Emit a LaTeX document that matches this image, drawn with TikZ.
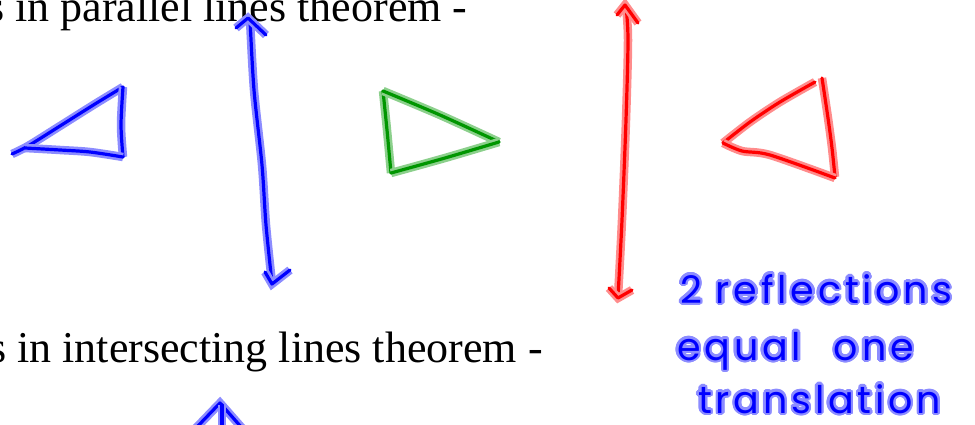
\documentclass[tikz,border=0pt]{standalone}
\definecolor{penblue}{RGB}{0, 0, 255}
\definecolor{pengreen}{RGB}{0, 150, 0}
\definecolor{penred}{RGB}{255, 0, 0}
\usepackage{fontspec}
\setmainfont{Liberation Serif}
\newfontfamily\handfont[LetterSpace=10]{Poppins}
\usepackage{contour}
\contourlength{2.4pt}
\contournumber{20}
\usepackage{tikz}
\usetikzlibrary{positioning}

\begin{document}
\begin{tikzpicture}[x=1pt, y=-1pt,
    pen/.style={draw=#1, line width=3.2pt, line cap=round, line join=round,
      preaction={draw=#1!45, line width=8.5pt}},
    heading/.style={anchor=base west, inner sep=0pt, font=\fontsize{44}{50}\selectfont},
    note/.style={anchor=base west, inner sep=0pt, text=penblue, font=\handfont\fontsize{38}{44}\selectfont}]

\useasboundingbox (0,0) rectangle (975,425);
\clip (0,0) rectangle (975,425);

% printed headings
\node[heading] (parallel) at (-13,22) {s in parallel lines theorem -};
\node[heading] (intersect) at (-11,362) {s in intersecting lines theorem -};

% first mirror line (blue)
\draw[pen=penblue] plot[smooth] coordinates {(250,19) (254,90) (262,165) (266,225) (272,283)};
\draw[pen=penblue] (236,28) -- (248,18) -- (266,35);
\draw[pen=penblue] (265,272) -- (272,284) -- (290,270);

% original triangle (blue)
\draw[pen=penblue] plot[smooth] coordinates {(12,154) (28,146) (60,126) (95,104) (123,87)};
\draw[pen=penblue] plot[smooth] coordinates {(123,87) (121,125) (123,157)};
\draw[pen=penblue] plot[smooth] coordinates {(123,157) (90,152) (60,150) (25,148)};

% first image (green)
\draw[pen=pengreen] plot[smooth] coordinates {(383,91) (387,130) (391,173)};
\draw[pen=pengreen] plot[smooth] coordinates {(383,91) (440,115) (499,142)};
\draw[pen=pengreen] plot[smooth] coordinates {(391,173) (445,158) (499,142)};

% second mirror line (red)
\draw[pen=penred] plot[smooth] coordinates {(626,6) (628,40) (626,120) (622,220) (618,297)};
\draw[pen=penred] (617,15) -- (625,5) -- (638,23);
\draw[pen=penred] (609,288) -- (618,298) -- (632,290);

% second image (red)
\draw[pen=penred] plot[smooth] coordinates {(815,82) (780,102) (750,122) (723,143)};
\draw[pen=penred] plot[smooth] coordinates {(822,78) (828,118) (832,148) (835,177)};
\draw[pen=penred] plot[smooth] coordinates {(723,143) (742,151) (770,155) (835,178)};

% third mirror line, cut off (blue)
\draw[pen=penblue] (196,428) -- (220,403) -- (242,428);
\draw[pen=penblue] (222,405) -- (222,430);

% handwritten note
\node[note] (note1) at (680,303) {\contour{penblue!45}{2 reflections}};
\node[note] (note2) at (677,360) {\contour{penblue!45}{equal\hspace{0.5em} one}};
\node[note] (note3) at (698,413) {\contour{penblue!45}{translation}};
\end{tikzpicture}
\end{document}
